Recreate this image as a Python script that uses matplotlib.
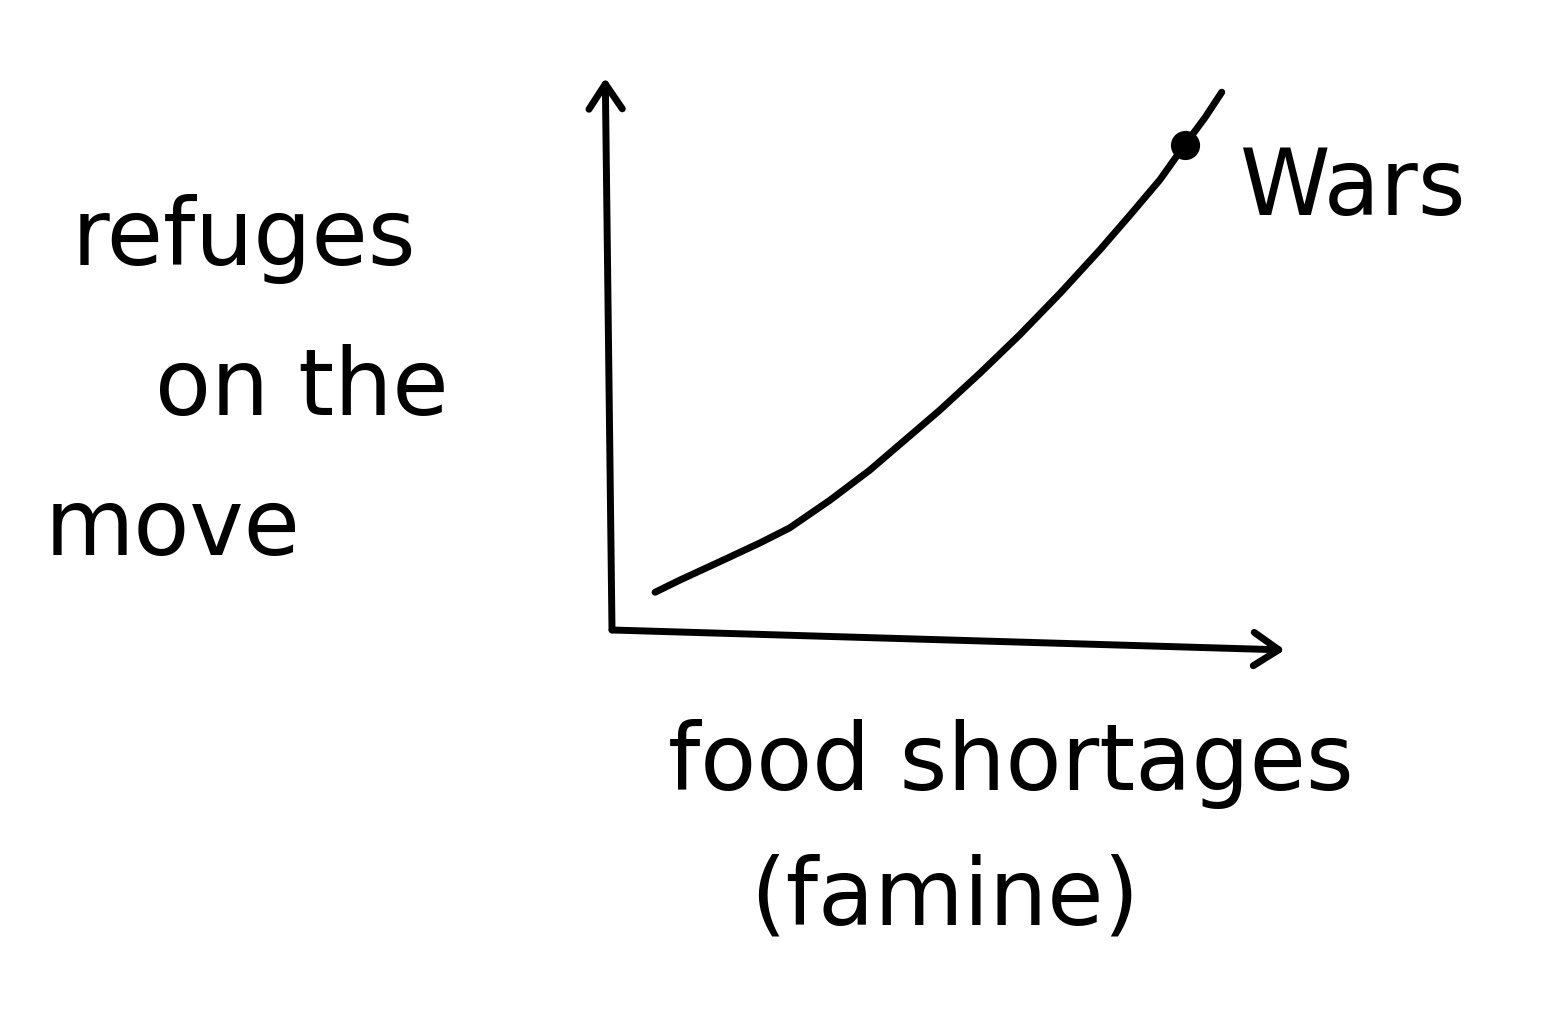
import matplotlib.pyplot as plt

# curve (arbitrary units, origin at the axes corner)
food_shortage = [0.64, 1.01, 1.60, 2.20, 2.64, 3.24, 3.83, 4.35, 4.87, 5.47,
                 6.06, 6.66, 7.25, 7.70, 8.14, 8.51, 8.81, 9.06]
refugees = [0.68, 0.90, 1.23, 1.57, 1.84, 2.34, 2.88, 3.42, 3.96, 4.63,
            5.32, 6.07, 6.85, 7.48, 8.11, 8.74, 9.23, 9.69]
wars_point = (8.51, 8.74)

W, H = 1547, 1025
fig = plt.figure(figsize=(W / 100, H / 100), dpi=100)
fig.patch.set_facecolor("white")

ax = fig.add_axes([612 / W, 1 - 630 / H, (1285 - 612) / W, (630 - 75) / H])
ax.set_xlim(0, 10)
ax.set_ylim(0, 10)
ax.axis("off")

lw = 5.0
arrow = dict(arrowstyle="->,head_length=1.8,head_width=1.2", lw=lw, color="black",
             shrinkA=0, shrinkB=0, joinstyle="round", capstyle="round")
# hand-drawn axes: slightly tilted
ax.annotate("", xy=(10, -0.36), xytext=(0, 0), xycoords="data", arrowprops=arrow,
            annotation_clip=False)
ax.annotate("", xy=(-0.10, 9.95), xytext=(0, 0), xycoords="data", arrowprops=arrow,
            annotation_clip=False)

ax.plot(food_shortage, refugees, color="black", lw=lw, solid_capstyle="round",
        solid_joinstyle="round", clip_on=False)
ax.plot(*wars_point, "o", color="black", ms=20, clip_on=False)

font = dict(family="DejaVu Sans", color="black", fontsize=66)
fig.text(1240 / W, 1 - 215 / H, "Wars", ha="left", va="baseline", **font)
fig.text(72 / W, 1 - 265 / H, "refuges", ha="left", va="baseline", **font)
fig.text(155 / W, 1 - 415 / H, "on the", ha="left", va="baseline", **font)
fig.text(45 / W, 1 - 555 / H, "move", ha="left", va="baseline", **font)
fig.text(668 / W, 1 - 790 / H, "food shortages", ha="left", va="baseline", **font)
fig.text(750 / W, 1 - 925 / H, "(famine)", ha="left", va="baseline", **font)

fig.savefig("out.png", dpi=100, facecolor="white")
